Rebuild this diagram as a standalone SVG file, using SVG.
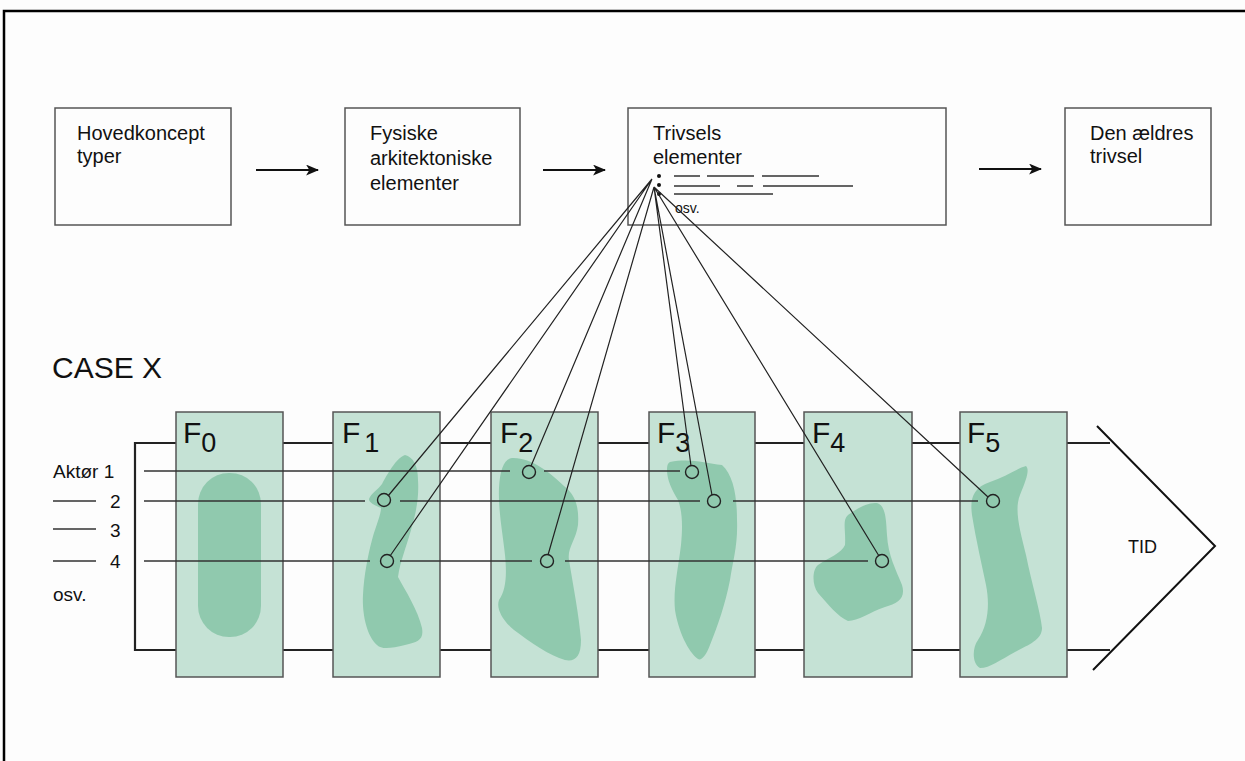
<svg xmlns="http://www.w3.org/2000/svg" width="1245" height="761" viewBox="0 0 1245 761">
<defs>
<style>
text{font-family:"Liberation Sans",Arial,sans-serif;fill:#111}
.box{fill:#fdfdfd;stroke:#555;stroke-width:1.5}
.bt{font-size:20px}
.panel{fill:#c5e2d5;stroke:#555;stroke-width:1.5}
.blob{fill:#90c9ae}
.fl{font-size:30px}
.row{stroke:#333;stroke-width:1.3;fill:none}
.conn{stroke:#222;stroke-width:1.2;fill:none}
.arr{stroke:#111;stroke-width:2;fill:none}
.circ{fill:none;stroke:#222;stroke-width:1.4}
.lbl{font-size:19px}
.dash{stroke:#333;stroke-width:1.3}
</style>
<marker id="ah" viewBox="0 0 12 10" refX="11" refY="5" markerWidth="13" markerHeight="11" markerUnits="userSpaceOnUse" orient="auto"><path d="M0,0 L12,5 L0,10 L3,5 z" fill="#111"/></marker>
</defs>
<rect x="0" y="0" width="1245" height="761" fill="#fdfdfd"/>
<path d="M4,761 V11 H1245" fill="none" stroke="#000" stroke-width="2.5"/>

<g id="box1"><rect class="box" x="55" y="108" width="176" height="117"/><text class="bt" x="77" y="140">Hovedkoncept</text><text class="bt" x="77" y="163">typer</text></g>
<g id="box2"><rect class="box" x="345" y="108" width="175" height="117"/><text class="bt" x="370" y="140">Fysiske</text><text class="bt" x="370" y="165">arkitektoniske</text><text class="bt" x="370" y="190">elementer</text></g>
<g id="box3"><rect class="box" x="628" y="108" width="318" height="117"/><text class="bt" x="653" y="140">Trivsels</text><text class="bt" x="653" y="164">elementer</text>
<circle cx="659" cy="176" r="2" fill="#111"/><circle cx="659" cy="185" r="2" fill="#111"/><circle cx="659" cy="194" r="2" fill="#111"/>
<path class="dash" d="M674,176H700M707,176H754M762,176H819M674,186H720M737,186H753M763,186H853M674,194H773"/>
<text x="675" y="213" style="font-size:14px">osv.</text></g>
<g id="box4"><rect class="box" x="1065" y="108" width="146" height="117"/><text class="bt" x="1090" y="140">Den ældres</text><text class="bt" x="1090" y="163">trivsel</text></g>

<g id="caseframe">
<text x="52" y="378" style="font-size:30px">CASE X</text>
<path d="M1110,443 H135 V650 H1110" fill="none" stroke="#222" stroke-width="2.2"/>
<path d="M1097,426 L1215,546 L1093,670" fill="none" stroke="#111" stroke-width="2"/>
<text x="1128" y="553" style="font-size:18px">TID</text>
<text class="lbl" x="53" y="478">Aktør 1</text>
<path class="dash" d="M53,501H96M53,529H96M53,561H96"/>
<text class="lbl" x="110" y="508">2</text><text class="lbl" x="110" y="537">3</text><text class="lbl" x="110" y="568">4</text>
<text class="lbl" x="53" y="601">osv.</text>
</g>

<g id="F0"><rect class="panel" x="176" y="412" width="107" height="265"/><rect class="blob" x="198" y="473" width="63" height="164" rx="31"/><text class="fl" x="183" y="443">F<tspan dy="9" style="font-size:27px">0</tspan></text></g>
<g id="F1"><rect class="panel" x="333" y="412" width="107" height="265"/><path class="blob" d="M405,455 C413,457 418,465 418,480 C419,495 417,510 411,530 C406,548 400,562 398,577 C405,590 418,610 422,628 C424,640 418,642 405,645 C392,648 382,650 377,645 C366,635 362,612 363,595 C364,575 368,555 372,540 C376,525 381,515 381,508 C375,505 369,503 369,499 C371,493 378,490 382,484 C387,475 396,458 405,455 Z"/><text class="fl" x="342" y="443">F<tspan dy="9" dx="4" style="font-size:27px">1</tspan></text></g>
<g id="F2"><rect class="panel" x="491" y="412" width="107" height="265"/><path class="blob" d="M512,458 C530,457 550,472 564,486 C577,496 579,510 578,525 C576,540 567,548 569,560 C573,585 579,615 581,640 C581,657 575,662 565,660 C550,656 530,642 514,630 C502,620 496,608 499,600 C506,590 507,575 505,555 C503,535 498,510 499,488 C500,470 504,459 512,458 Z"/><text class="fl" x="500" y="443">F<tspan dy="9" style="font-size:27px">2</tspan></text></g>
<g id="F3"><rect class="panel" x="649" y="412" width="106" height="265"/><path class="blob" d="M670,462 C690,458 705,463 722,465 C733,475 737,495 737,520 C738,545 733,560 730,580 C725,605 718,625 710,645 C706,656 701,661 698,659 C688,652 678,630 675,610 C673,590 678,570 681,545 C683,525 682,510 678,500 C672,490 667,480 667,470 C667,465 668,463 670,462 Z"/><text class="fl" x="657" y="443">F<tspan dy="9" style="font-size:27px">3</tspan></text></g>
<g id="F4"><rect class="panel" x="804" y="412" width="108" height="265"/><path class="blob" d="M848,515 C858,508 868,502 877,503 C886,506 886,520 887,535 C888,555 896,570 902,585 C906,598 898,603 885,607 C870,612 858,621 848,621 C838,617 828,604 818,593 C812,585 812,570 818,565 C828,558 842,553 845,545 C846,530 842,520 848,515 Z"/><text class="fl" x="812" y="443">F<tspan dy="9" style="font-size:27px">4</tspan></text></g>
<g id="F5"><rect class="panel" x="960" y="412" width="107" height="265"/><path class="blob" d="M990,482 C1005,477 1018,468 1026,466 C1030,470 1026,480 1020,495 C1014,510 1020,530 1026,555 C1032,585 1040,610 1042,628 C1042,640 1028,645 1015,652 C1000,660 990,668 980,668 C972,664 972,648 978,640 C988,625 990,605 986,585 C982,565 976,540 972,515 C970,500 972,488 990,482 Z"/><text class="fl" x="967" y="443">F<tspan dy="9" style="font-size:27px">5</tspan></text></g>

<g id="connectors">
<path class="arr" d="M256,170H318" marker-end="url(#ah)"/>
<path class="arr" d="M543,170H605" marker-end="url(#ah)"/>
<path class="arr" d="M979,169H1041" marker-end="url(#ah)"/>
<path class="row" d="M144,471H510M544,471H680"/>
<path class="row" d="M144,501H365M400,501H700M733,501H978"/>
<path class="row" d="M144,561H370M400,561H532M565,561H868"/>
<circle class="circ" cx="529" cy="472" r="6.5"/>
<circle class="circ" cx="692" cy="472" r="6.5"/>
<circle class="circ" cx="384" cy="500" r="6.5"/>
<circle class="circ" cx="714" cy="501" r="6.5"/>
<circle class="circ" cx="993" cy="501" r="6.5"/>
<circle class="circ" cx="387" cy="561" r="6.5"/>
<circle class="circ" cx="547" cy="561" r="6.5"/>
<circle class="circ" cx="882" cy="561" r="6.5"/>
<path class="conn" d="M652,179L388,496M652,179L390,556M652,179L531,466M654,187L548,555M654,187L691,466M654,187L712,495M654,187L879,556M654,187L988,497"/>
</g>
</svg>
